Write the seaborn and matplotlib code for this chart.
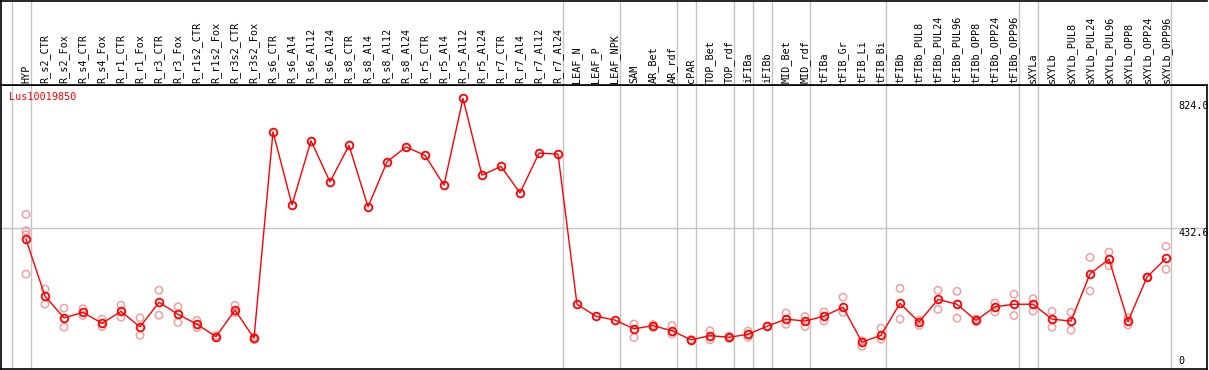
import numpy as np
import pandas as pd
import seaborn as sns
import matplotlib.pyplot as plt
import matplotlib.transforms as mtransforms

# Sample names (header), in plot order
samples = ["HYP", "R_s2_CTR", "R_s2_Fox", "R_s4_CTR", "R_s4_Fox", "R_r1_CTR",
           "R_r1_Fox", "R_r3_CTR", "R_r3_Fox", "R_r1s2_CTR", "R_r1s2_Fox",
           "R_r3s2_CTR", "R_r3s2_Fox", "R_s6_CTR", "R_s6_Al4", "R_s6_Al12",
           "R_s6_Al24", "R_s8_CTR", "R_s8_Al4", "R_s8_Al12", "R_s8_Al24",
           "R_r5_CTR", "R_r5_Al4", "R_r5_Al12", "R_r5_Al24", "R_r7_CTR",
           "R_r7_Al4", "R_r7_Al12", "R_r7_Al24", "LEAF_N", "LEAF_P", "LEAF_NPK",
           "SAM", "AR_Bet", "AR_rdf", "cPAR", "TOP_Bet", "TOP_rdf", "iFIBa",
           "iFIBb", "MID_Bet", "MID_rdf", "tFIBa", "tFIB_Gr", "tFIB_Li",
           "tFIB_Bi", "tFIBb", "tFIBb_PUL8", "tFIBb_PUL24", "tFIBb_PUL96",
           "tFIBb_OPP8", "tFIBb_OPP24", "tFIBb_OPP96", "sXYLa", "sXYLb",
           "sXYLb_PUL8", "sXYLb_PUL24", "sXYLb_PUL96", "sXYLb_OPP8",
           "sXYLb_OPP24", "sXYLb_OPP96"]

# Mean expression per sample
means = [398, 222, 155, 172, 138, 175, 127, 203, 166, 135, 97, 179, 92,
         730, 504, 702, 575, 688, 498, 637, 683, 657, 565, 833, 596, 623, 541,
         664, 661, 197, 160, 148,
         121, 131, 115, 87, 100, 95, 104, 129, 151, 145, 160, 188, 80, 101,
         200, 142, 212, 197, 147, 189, 197, 197, 151, 145, 291, 336, 144,
         281, 339]

# Individual replicates (empty where not shown)
replicates = [[475, 424, 412, 290], [244, 197], [185, 126], [183, 162],
              [151, 128], [194, 157], [155, 101], [240, 163], [189, 141],
              [147, 125], [100, 93], [194, 171], [96, 88],
              [], [], [], [], [], [], [], [], [], [], [], [], [], [], [], [],
              [], [], [],
              [136, 94], [134, 126], [131, 105], [88], [115, 87], [98, 92],
              [114, 95], [129], [170, 135], [159, 128], [173, 145], [219, 172],
              [67, 84], [123, 89],
              [246, 151], [131, 148], [240, 181], [237, 154], [143, 151],
              [201, 173], [228, 162], [214, 176], [175, 126], [172, 117],
              [342, 238], [358, 316], [133, 155], [281], [376, 305]]

gene = "Lus10019850"
ref_lines = [824.0, 432.6, 0]
ref_labels = ["824.0", "432.6", "0"]
group_breaks = [-1, 0, 28, 31, 34, 35, 37, 38, 39, 41, 45, 52, 53, 60]

mean_df = pd.DataFrame({"pos": np.arange(len(samples)), "value": means})
rep_df = pd.DataFrame([(i, v) for i, reps in enumerate(replicates) for v in reps],
                      columns=["pos", "value"])

sns.set_theme(style="white")
plt.rcParams["font.family"] = ["DejaVu Sans Mono"]
FS = 7.3

W, H = 1209, 370
fig = plt.figure(figsize=(W / 100, H / 100), dpi=100)
ax = fig.add_axes([1 / W, 1 / H, 1206 / W, 284 / H])
hax = fig.add_axes([1 / W, 285 / H, 1206 / W, 84.5 / H])

xlim = ((1 - 26) / 19, (1207 - 26) / 19)
for a in (ax, hax):
    a.set_xlim(xlim)
    a.set_xticks([])
    a.set_yticks([])
    a.set_facecolor("white")
    for s in a.spines.values():
        s.set_color("black")
        s.set_linewidth(1.2)
    for b in group_breaks:
        a.axvline(b + 0.24, color="#c4c4c4", lw=1, zorder=0)
ax.set_ylim(-3.1, 874.5)
hax.set_ylim(0, 1)
hax.spines["right"].set_visible(False)

ax.axhline(ref_lines[1], color="#c4c4c4", lw=1, zorder=0)

sns.scatterplot(data=rep_df, x="pos", y="value", ax=ax, marker="o", s=28,
                facecolor="none", edgecolor="#f0a0a0", linewidth=1.1, zorder=2,
                legend=False)
sns.lineplot(data=mean_df, x="pos", y="value", ax=ax, color="red", lw=1,
             marker="o", markersize=5.5, markerfacecolor="none",
             markeredgecolor="red", markeredgewidth=1.3, zorder=3, legend=False)
ax.set_xlabel("")
ax.set_ylabel("")

# header labels
htr = mtransforms.blended_transform_factory(hax.transData, hax.transAxes)
for i, name in enumerate(samples):
    hax.text(i, 0.025, name, transform=htr, rotation=90, ha="center",
             va="bottom", fontsize=FS, color="black")

# right-hand value labels
rtr = mtransforms.blended_transform_factory(ax.transAxes, ax.transData)
ax.text(0.976, ref_lines[0], ref_labels[0], transform=rtr, ha="left", va="top",
        fontsize=FS, color="black")
ax.text(0.976, ref_lines[1], ref_labels[1], transform=rtr, ha="left", va="top",
        fontsize=FS, color="black")
ax.text(0.976, 6, ref_labels[2], transform=rtr, ha="left", va="bottom",
        fontsize=FS, color="black")

ax.text(0.0069, 0.958, gene, transform=ax.transAxes, ha="left", va="center",
        fontsize=FS, color="red")

fig.savefig("out.png", dpi=100)
